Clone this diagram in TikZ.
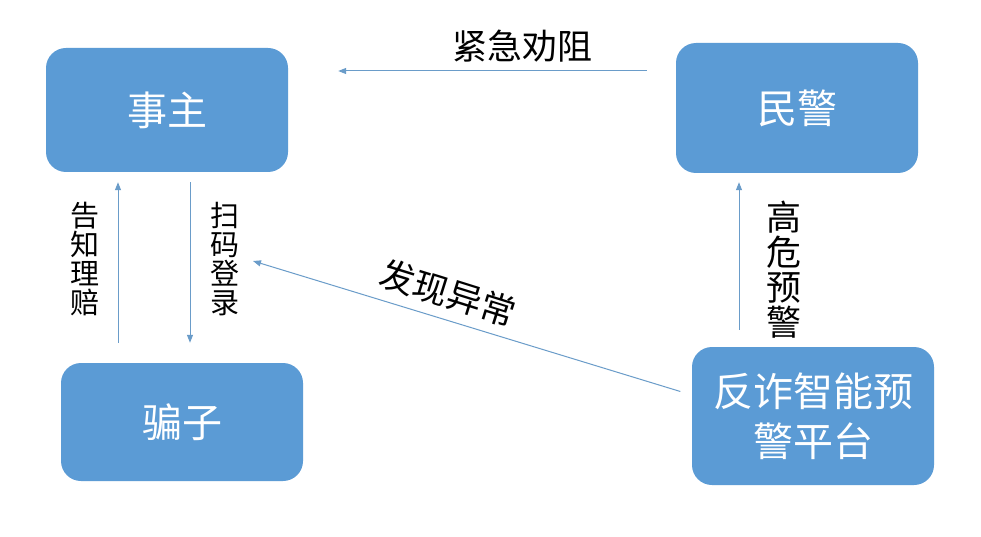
\documentclass[tikz,border=0pt]{standalone}
\usepackage{fontspec}
\setmainfont{Noto Sans CJK SC}
\newfontfamily\cjk{Noto Sans CJK SC}
\usetikzlibrary{arrows.meta}
\definecolor{boxblue}{HTML}{5B9BD5}
\definecolor{arrblue}{HTML}{6A9CC9}
\tikzset{
  box/.style={fill=boxblue, draw=none, rounded corners=20pt, minimum width=242pt,
    text=white, font=\cjk\fontsize{40}{50}\selectfont, align=center, inner sep=0pt},
  arr/.style={draw=arrblue, line width=1pt, -{Triangle[length=8pt,width=6pt]}},
  lbl/.style={text=black, inner sep=0pt, align=center},
}
\begin{document}
\begin{tikzpicture}[x=1pt,y=-1pt]
\useasboundingbox (0,0) rectangle (981,537);
\fill[white] (0,0) rectangle (981,537);
\node[box, minimum height=124pt] (sz) at (167,110) {事主};
\node[box, minimum height=130pt] (mj) at (797,108) {民警};
\node[box, minimum height=118pt] (pz) at (182,422) {骗子};
\node[box, minimum height=138pt] (pt) at (813,416) {反诈智能预\\警平台};
% 紧急劝阻
\draw[arr, shorten <=29pt, shorten >=50pt] (mj.west |- 0,71) -- (sz.east |- 0,71);
\node[lbl, font=\cjk\fontsize{35}{35}\selectfont] (l1) at (522,46) {紧急劝阻};
% 告知理赔
\draw[arr, shorten <=20pt, shorten >=10pt] (pz.north -| 118,0) -- (sz.south -| 118,0);
\node[lbl, font=\cjk\fontsize{29}{29}\selectfont] (l2) at (85,259) {告\\知\\理\\赔};
% 扫码登录
\draw[arr, shorten <=10pt, shorten >=20pt] (sz.south -| 190,0) -- (pz.north -| 190,0);
\node[lbl, font=\cjk\fontsize{29}{29}\selectfont] (l3) at (225,259) {扫\\码\\登\\录};
% 高危预警
\draw[arr, shorten <=17pt, shorten >=9pt] (pt.north -| 739,0) -- (mj.south -| 739,0);
\node[lbl, font=\cjk\fontsize{35}{35}\selectfont] (l4) at (784,270) {高\\危\\预\\警};
% 发现异常
\coordinate (fx) at (253,261);
\draw[arr, shorten <=12pt] (pt.west |- 0,395) -- (fx);
\node[lbl, font=\cjk\fontsize{35}{35}\selectfont, rotate=-17.4] (l5) at (448,293) {发现异常};
\end{tikzpicture}
\end{document}
